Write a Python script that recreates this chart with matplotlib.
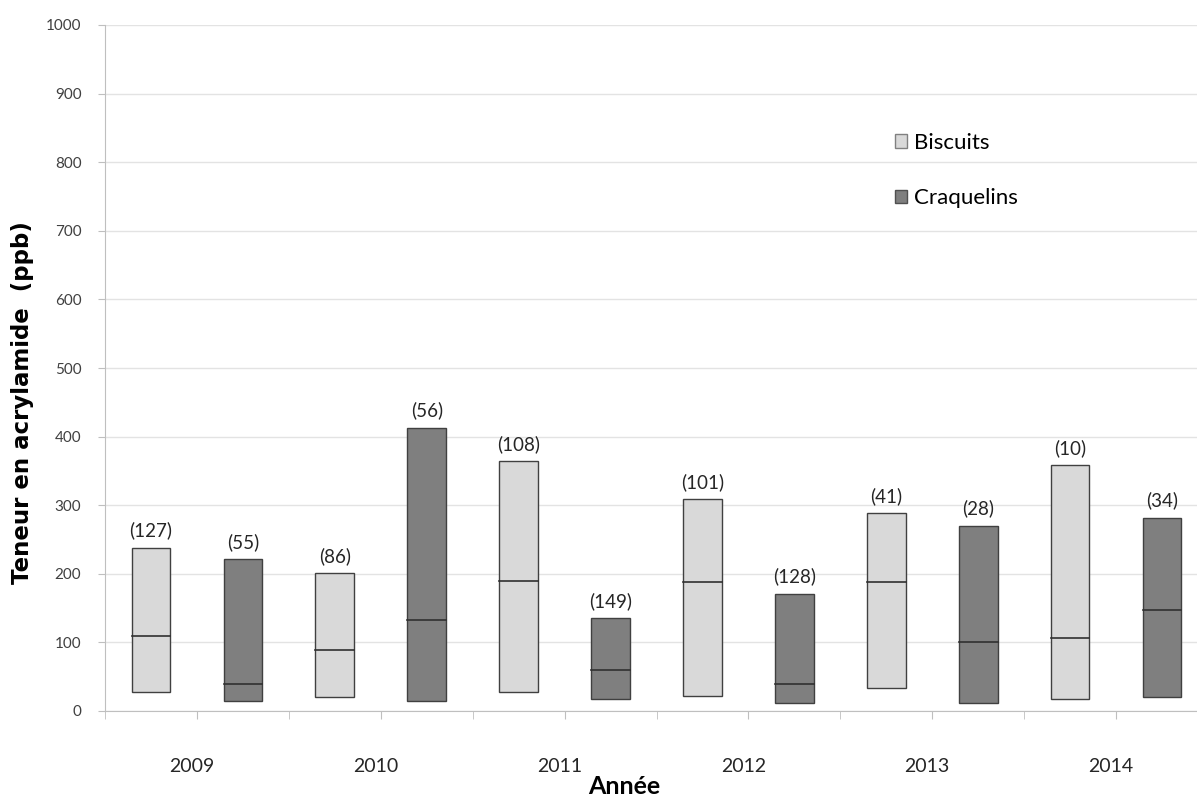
import numpy as np
import matplotlib
matplotlib.use('Agg')
import matplotlib.pyplot as plt
import matplotlib.transforms as mtransforms
from matplotlib.patches import Patch

plt.rcParams['font.family'] = ['Lato', 'DejaVu Sans']

years = ['2009', '2010', '2011', '2012', '2013', '2014']
series = ['Biscuits', 'Craquelins']
# low / median / high for each year (ppb)
bisc_low = [27, 21, 27, 22, 33, 18]
bisc_med = [109, 89, 190, 188, 188, 107]
bisc_high = [238, 201, 364, 309, 288, 358]
craq_low = [15, 15, 18, 12, 11, 21]
craq_med = [39, 133, 60, 39, 101, 147]
craq_high = [221, 413, 135, 171, 270, 282]
bisc_n = [127, 86, 108, 101, 41, 10]
craq_n = [55, 56, 149, 128, 28, 34]

col_light = '#d9d9d9'
col_dark = '#7f7f7f'
edge = '#404040'

fig = plt.figure(figsize=(11.97, 7.98), dpi=100)
ax = fig.add_axes([105/1197, 87/798, 1103/1197, 686/798])

w = 0.42
for k in range(len(years)):
    for j, (lo, me, hi, n, c) in enumerate([
            (bisc_low, bisc_med, bisc_high, bisc_n, col_light),
            (craq_low, craq_med, craq_high, craq_n, col_dark)]):
        x = 2 * k + j
        ax.bar(x, hi[k] - lo[k], bottom=lo[k], width=w, color=c,
               edgecolor=edge, linewidth=1.0, zorder=3)
        ax.plot([x - w / 2, x + w / 2], [me[k], me[k]], color='#303030',
                lw=1.2, zorder=4)
        ax.text(x, hi[k] + 12, '(%d)' % n[k], ha='center', va='bottom',
                fontsize=13.5, color='#262626')

ax.set_xlim(-0.5, 11.5)
ax.set_ylim(0, 1000)
ax.set_yticks(np.arange(0, 1001, 100))
ax.yaxis.grid(True, color='#e3e3e3', lw=1)
ax.set_axisbelow(True)

ax.set_xticks([2 * k + 0.5 for k in range(len(years))])
ax.set_xticklabels(years)
ax.set_xticks([-0.5] + [2 * k + 1.5 for k in range(len(years) - 1)], minor=True)
ax.tick_params(axis='x', which='both', length=6, color='#bfbfbf',
               labelsize=14, labelcolor='#262626', pad=28)
ax.tick_params(axis='y', length=5, color='#bfbfbf', labelsize=11,
               labelcolor='#404040', pad=12)
# year labels sit a little left of the tick in the original
shift = mtransforms.ScaledTranslation(-5/100, 0, fig.dpi_scale_trans)
for lab in ax.get_xticklabels():
    lab.set_transform(lab.get_transform() + shift)

for s in ['top', 'right']:
    ax.spines[s].set_visible(False)
for s in ['left', 'bottom']:
    ax.spines[s].set_color('#bfbfbf')

ax.set_ylabel('Teneur en acrylamide  (ppb)', fontsize=16.5, fontweight='bold',
              family='DejaVu Sans')
ax.yaxis.set_label_coords(-0.064, 0.449)
ax.set_xlabel('Année', fontsize=18, fontweight='bold', va='top')
ax.xaxis.set_label_coords(0.471, -0.093)

handles = [Patch(facecolor=col_light, edgecolor='#808080', label=series[0]),
           Patch(facecolor=col_dark, edgecolor='#505050', label=series[1])]
ax.legend(handles=handles, loc='upper left', bbox_to_anchor=(0.716, 0.843),
          frameon=False, fontsize=16, handlelength=0.55, handleheight=0.55,
          handletextpad=0.3, labelspacing=1.6, borderpad=0, borderaxespad=0)

plt.savefig('out.png', dpi=100)
